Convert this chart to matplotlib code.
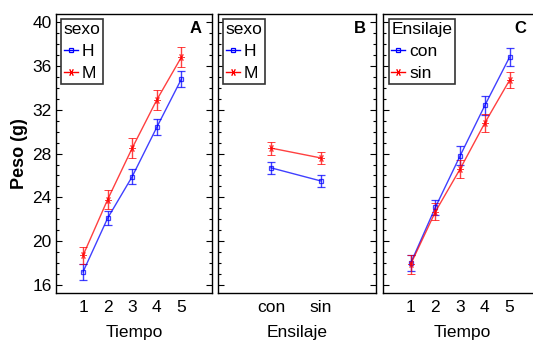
import numpy as np
import matplotlib
matplotlib.use("Agg")
import matplotlib.pyplot as plt
from matplotlib.ticker import MultipleLocator
from matplotlib.lines import Line2D

plt.rcParams['font.family'] = ['Liberation Sans', 'DejaVu Sans']
plt.rcParams['font.size'] = 12.5

### data ###
tiempo = [1, 2, 3, 4, 5]
ensilaje = ['con', 'sin']

# panel A: sexo x Tiempo
a_H = [17.2, 22.1, 25.9, 30.4, 34.8]
a_H_err = [0.75, 0.65, 0.7, 0.75, 0.75]
a_M = [18.7, 23.8, 28.5, 32.9, 36.8]
a_M_err = [0.8, 0.85, 0.95, 0.9, 0.9]

# panel B: sexo x Ensilaje
b_H = [26.7, 25.5]
b_H_err = [0.55, 0.55]
b_M = [28.5, 27.6]
b_M_err = [0.6, 0.55]

# panel C: Ensilaje x Tiempo
c_con = [18.0, 23.1, 27.8, 32.4, 36.8]
c_con_err = [0.7, 0.7, 0.85, 0.85, 0.85]
c_sin = [17.9, 22.7, 26.6, 30.8, 34.7]
c_sin_err = [0.85, 0.75, 0.8, 0.85, 0.75]

BLUE = '#0000ff'
RED = '#ff0000'
SQ = dict(marker='s', markersize=3.5, fillstyle='none', markeredgewidth=0.9)
AST = dict(marker=(6, 2, 90), markersize=5, markeredgewidth=0.7)

fig = plt.figure(figsize=(5.33, 3.42), dpi=100)
bot, hgt = 0.143, 0.816
axA = fig.add_axes([0.105, bot, 0.293, hgt])
axB = fig.add_axes([0.409, bot, 0.296, hgt])
axC = fig.add_axes([0.7195, bot, 0.2946, hgt])


def series(ax, x, y, err, color, mk):
    ax.errorbar(x, y, yerr=err, color=color, ecolor=color, elinewidth=1,
                capsize=3, capthick=1, lw=1, alpha=0.75, **mk)


series(axA, tiempo, a_H, a_H_err, BLUE, SQ)
series(axA, tiempo, a_M, a_M_err, RED, AST)

xb = np.arange(len(ensilaje))
series(axB, xb, b_H, b_H_err, BLUE, SQ)
series(axB, xb, b_M, b_M_err, RED, AST)

series(axC, tiempo, c_con, c_con_err, BLUE, SQ)
series(axC, tiempo, c_sin, c_sin_err, RED, AST)

for ax in (axA, axB, axC):
    ax.set_ylim(15.27, 40.73)
    ax.yaxis.set_major_locator(MultipleLocator(4))
    ax.yaxis.set_minor_locator(MultipleLocator(1))
    ax.tick_params(axis='y', which='both', direction='in', left=True, right=True)
    ax.tick_params(axis='y', which='major', length=4, width=0.8)
    ax.tick_params(axis='y', which='minor', length=2, width=0.8)
    ax.tick_params(axis='x', length=0, pad=5)
    for s in ax.spines.values():
        s.set_linewidth(1)

axA.set_xlim(-0.1, 6.25)
axC.set_xlim(-0.1, 6.25)
axA.set_xticks(tiempo)
axC.set_xticks(tiempo)
axB.set_xlim(-1.06, 2.1)
axB.set_xticks(xb)
axB.set_xticklabels(ensilaje)

axA.tick_params(axis='y', pad=3)
axB.tick_params(axis='y', labelleft=False)
axC.tick_params(axis='y', labelleft=False)

axA.set_ylabel('Peso (g)', fontsize=13, fontweight='bold', labelpad=3)
axA.set_xlabel('Tiempo', labelpad=7)
axB.set_xlabel('Ensilaje', labelpad=7)
axC.set_xlabel('Tiempo', labelpad=7)

axA.text(0.935, 0.975, 'A', transform=axA.transAxes, ha='right', va='top',
         fontsize=12, fontweight='bold')
axB.text(0.935, 0.975, 'B', transform=axB.transAxes, ha='right', va='top',
         fontsize=12, fontweight='bold')
axC.text(0.907, 0.975, 'C', transform=axC.transAxes, ha='right', va='top',
         fontsize=12, fontweight='bold')

for ax, title, labels in ((axA, 'sexo', ['H', 'M']), (axB, 'sexo', ['H', 'M']),
                          (axC, 'Ensilaje', ['con', 'sin'])):
    handles = [Line2D([], [], color=BLUE, lw=1, **SQ),
               Line2D([], [], color=RED, lw=1, **AST)]
    leg = ax.legend(handles, labels, loc='upper left', title=title,
                    handlelength=0.8, handletextpad=0.25, borderpad=0.15,
                    borderaxespad=0.3, labelspacing=0.4, fancybox=False,
                    edgecolor='#333333', framealpha=1, alignment='left')
    leg.get_frame().set_linewidth(1.2)

fig.savefig('out.png', dpi=100)
